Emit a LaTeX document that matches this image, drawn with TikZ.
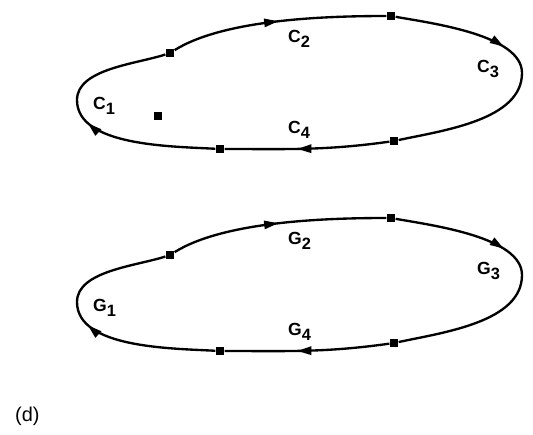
\documentclass[tikz,border=0pt]{standalone}
\usepackage{fontspec}
\setmainfont{Liberation Sans}
\usetikzlibrary{arrows.meta,decorations.markings}
\tikzset{
  curve/.style={line width=2pt},
  flowtip/.style={postaction={decorate},
    decoration={markings, mark=at position #1 with {\arrow{Triangle[length=12pt,width=7pt]}}}},
  marker/.style={fill=black, minimum size=7.5pt, inner sep=0pt},
  lbl/.style={anchor=base west, inner sep=0pt, font=\fontsize{15}{17}\selectfont\bfseries}
}
\newcommand{\lab}[2]{#1\raisebox{-4.5pt}{\fontsize{14}{14}\selectfont #2}}
% one closed contour: #1 = name prefix, #2 = vertical offset, #3 = letter
\newcommand{\contour}[3]{%
  \node[marker] (#1a) at (170,-53-#2) {};
  \node[marker] (#1b) at (391,-16-#2) {};
  \node[marker] (#1c) at (394,-141-#2) {};
  \node[marker] (#1d) at (220,-149-#2) {};
  \coordinate (#1r) at (522,-73-#2);
  \coordinate (#1l) at (77,-100-#2);
  \draw[curve, flowtip=0.5] (#1a) to[out=32,in=180,looseness=0.7] (#1b);
  \draw[curve, flowtip=0.38] (#1b) to[out=-10,in=90,looseness=0.7] (#1r)
        to[out=-90,in=12,looseness=0.85] (#1c);
  \draw[curve, flowtip=0.56] (#1c) to[out=188,in=0] (#1d);
  \draw[curve, flowtip=0.5] (#1d) to[out=177,in=-90,looseness=0.8] (#1l)
        to[out=90,in=198,looseness=0.8] (#1a);
  \node[lbl] (#1n1) at (93,-109-#2) {\lab{#3}{1}};
  \node[lbl] (#1n2) at (288,-42-#2) {\lab{#3}{2}};
  \node[lbl] (#1n3) at (477,-72-#2) {\lab{#3}{3}};
  \node[lbl] (#1n4) at (288,-133-#2) {\lab{#3}{4}};}

\begin{document}
\begin{tikzpicture}[x=0.03cm, y=0.03cm]
  \useasboundingbox (0,0) rectangle (533,-434);
  \contour{c}{0}{C}
  \node[marker] (seed) at (158,-116) {};
  \contour{g}{202}{G}
  \node[anchor=base west, inner sep=0pt, font=\fontsize{17}{20}\selectfont] (tag) at (15,-421) {(d)};
\end{tikzpicture}
\end{document}
